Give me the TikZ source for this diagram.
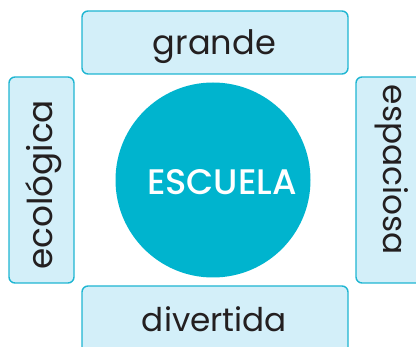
\documentclass[tikz,border=0pt]{standalone}
\usepackage{fontspec}
\setmainfont{Poppins}[BoldFont=Poppins Medium]
\definecolor{boxfill}{HTML}{D3EFF9}
\definecolor{boxline}{HTML}{1FB6D2}
\definecolor{circfill}{HTML}{00B4CE}
\definecolor{txt}{HTML}{231F20}
\begin{document}
\begin{tikzpicture}[x=1pt,y=-1pt,
  catbox/.style={draw=boxline,fill=boxfill,line width=1.4pt,rounded corners=6pt},
  word/.style={inner sep=0pt,text=txt,font=\fontsize{34}{34}\selectfont}]
\useasboundingbox (0,0) rectangle (416,347);
\begin{scope}
\clip (0,0) rectangle (416,347);
\draw[catbox] (82,11) rectangle (348,74);
\draw[catbox] (82,286) rectangle (348,360);
\draw[catbox] (9,77) rectangle (74,283);
\draw[catbox] (356,77) rectangle (430,283);
\end{scope}
\node[circle,fill=circfill,minimum size=195pt,inner sep=0pt] (escuela) at (213,180) {};
\node[word,anchor=base,text=white] (esc) at (222,195) {\resizebox{150pt}{25pt}{\bfseries ESCUELA}};
\node[word,anchor=base] (grande) at (214.5,55) {\resizebox{123pt}{!}{grande}};
\node[word,anchor=base] (divertida) at (214.5,332) {\resizebox{145pt}{!}{divertida}};
\node[word,anchor=base,rotate=90] (ecologica) at (52,185) {\resizebox{170pt}{!}{ecológica}};
\node[word,anchor=base,rotate=-90] (espaciosa) at (383,170) {\resizebox{170pt}{!}{espaciosa}};
\end{tikzpicture}
\end{document}
